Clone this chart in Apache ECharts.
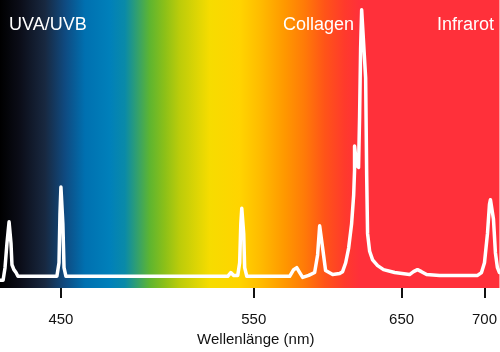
<!DOCTYPE html>
<html>
<head>
<meta charset="utf-8">
<script src="https://cdn.jsdelivr.net/npm/echarts@6/dist/echarts.min.js"></script>
<style>
    html, body { margin: 0; padding: 0; background: #fff; }
    #chart { width: 500px; height: 352px; }
</style>
</head>
<body>
<div id="chart"></div>
<script>
// Spektrum: Wellenlänge (nm) und relative Intensität (%)
const wavelengths = [
    418.4, 420.0, 421.0, 422.0, 423.1, 423.6, 424.1, 424.6, 425.6, 426.7, 427.7,
    447.9, 449.0, 449.5, 450.0, 450.5, 451.0, 451.6, 452.6,
    536.5, 538.1, 539.6, 541.7, 542.7, 543.3, 543.8, 544.3, 544.8, 545.3, 546.4,
    574.3, 577.0, 579.1, 581.1, 583.1, 587.2, 591.2, 593.2, 594.6, 595.9, 596.6, 598.6,
    603.4, 608.1, 610.1, 612.2, 614.2, 616.2, 617.6, 618.2, 618.2, 618.9, 619.6, 620.9,
    621.6, 622.3, 623.0, 624.3, 625.7, 626.4, 627.0, 628.4, 630.4, 633.8, 637.8, 645.3,
    654.8, 657.2, 659.6, 662.0, 665.1, 672.9, 695.8, 698.2,
    700.0, 701.8, 703.0, 703.6, 704.8, 705.4, 706.6, 707.8, 709.0
];
const intensity = [
    2.7, 2.7, 7.1, 15.5, 23.0, 23.0, 15.5, 8.1, 6.4, 5.4, 4.1,
    4.1, 8.8, 25.7, 35.1, 35.1, 22.3, 7.1, 4.1,
    4.1, 5.4, 4.4, 4.4, 8.8, 22.3, 27.7, 27.7, 18.9, 7.1, 4.1,
    4.1, 6.4, 7.1, 5.4, 3.7, 4.4, 5.4, 11.5, 21.6, 21.6, 13.9, 6.1,
    4.7, 5.1, 5.7, 8.8, 13.9, 22.3, 32.4, 40.9, 49.3, 49.3, 42.6, 41.9,
    59.5, 83.1, 96.6, 96.6, 73.0, 39.2, 18.9, 12.8, 9.8, 7.8, 6.4, 5.4,
    4.7, 5.7, 6.4, 5.7, 4.7, 4.4, 4.4, 5.4,
    8.8, 18.9, 29.1, 30.7, 30.7, 24.0, 12.2, 7.1, 5.4
];
const tickLabels = [450, 550, 650, 700];
const regionLabels = ['UVA/UVB', 'Collagen', 'Infrarot'];

// Die Achse der Vorlage ist nicht linear: Stützstellen der Skala
const anchorNm = [450, 550, 650, 700];
const anchorPos = [61, 254, 402, 485];

function nmToPos(nm) {
    const n = anchorNm.length;
    let i = 0;
    if (nm >= anchorNm[n - 1]) i = n - 2;
    else while (i < n - 2 && nm > anchorNm[i + 1]) i++;
    const t = (nm - anchorNm[i]) / (anchorNm[i + 1] - anchorNm[i]);
    return anchorPos[i] + t * (anchorPos[i + 1] - anchorPos[i]);
}

const font = 'Liberation Sans, Arial, Helvetica, sans-serif';
const chart = echarts.init(document.getElementById('chart'));

const spectrum = new echarts.graphic.LinearGradient(0, 0, 1, 0, [
    { offset: 0.00, color: '#000000' },
    { offset: 0.04, color: '#0b0d18' },
    { offset: 0.09, color: '#182840' },
    { offset: 0.13, color: '#0f4a80' },
    { offset: 0.17, color: '#0070b0' },
    { offset: 0.22, color: '#0080ba' },
    { offset: 0.25, color: '#0a8aa8' },
    { offset: 0.27, color: '#2a9c7a' },
    { offset: 0.30, color: '#5eb530' },
    { offset: 0.33, color: '#8cc018' },
    { offset: 0.36, color: '#bccc0a' },
    { offset: 0.42, color: '#f6dc00' },
    { offset: 0.48, color: '#ffd400' },
    { offset: 0.52, color: '#ffbc00' },
    { offset: 0.57, color: '#ff9800' },
    { offset: 0.61, color: '#ff7a08' },
    { offset: 0.65, color: '#ff5418' },
    { offset: 0.69, color: '#ff3a2c' },
    { offset: 0.72, color: '#ff303a' },
    { offset: 1.00, color: '#ff303a' }
]);

const option = {
    animation: false,
    grid: {
        left: 0,
        right: 0,
        top: 0,
        bottom: 56,
        show: true,
        borderWidth: 0,
        backgroundColor: spectrum
    },
    xAxis: {
        type: 'value',
        min: 0,
        max: 500,
        name: 'Wellenlänge (nm)',
        nameLocation: 'middle',
        nameGap: 42,
        nameTextStyle: { fontFamily: font, fontSize: 15, color: '#111', padding: [0, 0, 0, 12] },
        axisLine: { show: false },
        splitLine: { show: false },
        axisTick: {
            show: true,
            length: 10,
            customValues: tickLabels.map(nmToPos),
            lineStyle: { color: '#111', width: 2 }
        },
        axisLabel: {
            show: true,
            margin: 24,
            fontFamily: font,
            fontSize: 15,
            color: '#111',
            customValues: tickLabels.map(nmToPos),
            formatter: function (v) {
                const i = tickLabels.map(nmToPos).findIndex(p => Math.abs(p - v) < 0.5);
                return i >= 0 ? String(tickLabels[i]) : '';
            }
        }
    },
    yAxis: {
        type: 'value',
        min: 0,
        max: 100,
        show: false
    },
    graphic: [
        { type: 'text', left: 9, top: 16, style: { text: regionLabels[0], fill: '#fff', font: '18px ' + font } },
        { type: 'text', left: 283, top: 16, style: { text: regionLabels[1], fill: '#fff', font: '18px ' + font } },
        { type: 'text', right: 6, top: 16, style: { text: regionLabels[2], fill: '#fff', font: '18px ' + font } }
    ],
    series: [
        {
            type: 'line',
            data: wavelengths.map((nm, i) => [nmToPos(nm), intensity[i]]),
            symbol: 'none',
            smooth: false,
            clip: false,
            lineStyle: { color: '#ffffff', width: 3.5, join: 'round', cap: 'round' }
        }
    ]
};

chart.setOption(option);
</script>
</body>
</html>
